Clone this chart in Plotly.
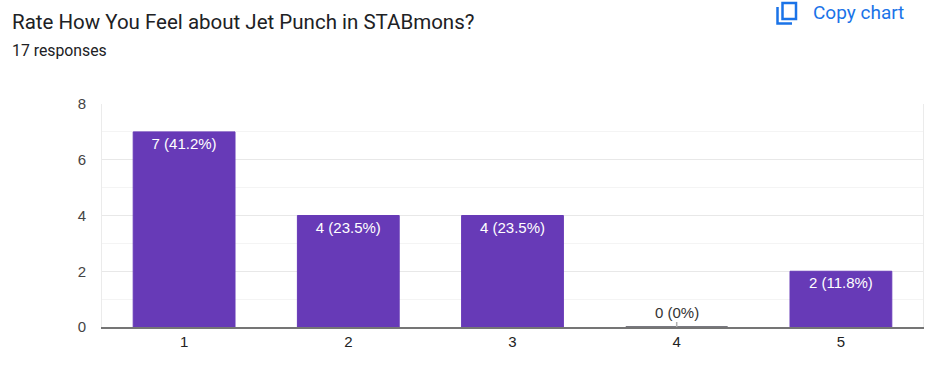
import plotly.graph_objects as go

categories = ["1", "2", "3", "4", "5"]
counts = [7, 4, 4, 0, 2]
total_responses = 17
y_ticks = [0, 2, 4, 6, 8]

W, H = 931, 365
L, R, T, B = 102, 8, 104, 38
PW, PH = W - L - R, H - T - B

def px(x):
    return (x - L) / PW

def py(y):
    return (H - B - y) / PH

labels = [f"{c} ({round(c / total_responses * 100, 1):g}%)" if c else "" for c in counts]

fig = go.Figure()
fig.add_bar(
    x=categories, y=counts, text=labels, textposition="inside", insidetextanchor="end",
    textangle=0,
    textfont=dict(color="white", size=15, family="Liberation Sans, Arial"),
    marker=dict(color="#673ab7", line=dict(color=["#673ab7", "#673ab7", "#673ab7", "#4a4a55", "#673ab7"], width=1)),
    width=0.62, cliponaxis=False, hoverinfo="skip",
)

for i, (c, n) in enumerate(zip(categories, counts)):
    if n == 0:
        fig.add_annotation(x=i, y=0, text=f"{n} (0%)", showarrow=True, arrowhead=0,
                           arrowcolor="#b0b0b0", arrowwidth=1.5, ax=0, ay=-15,
                           font=dict(size=15, color="#333", family="Liberation Sans, Arial"))

fig.add_annotation(x=px(10), y=py(22), xref="paper", yref="paper", xanchor="left", yanchor="middle",
                   text="Rate How You Feel about Jet Punch in STABmons?", showarrow=False,
                   font=dict(family="Roboto", size=20.5, color="#202124"))
fig.add_annotation(x=px(10), y=py(51), xref="paper", yref="paper", xanchor="left", yanchor="middle",
                   text="17 responses", showarrow=False,
                   font=dict(family="Roboto", size=15.8, color="#202124"))
fig.add_annotation(x=px(811), y=py(13), xref="paper", yref="paper", xanchor="left", yanchor="middle",
                   text="Copy chart", showarrow=False,
                   font=dict(family="Roboto", size=19, color="#1a73e8"))

blue = "#1a73e8"
fig.add_shape(type="rect", xref="paper", yref="paper", x0=px(782.5), x1=px(796), y0=py(3), y1=py(19),
              line=dict(color=blue, width=2.5), fillcolor="rgba(0,0,0,0)")
fig.add_shape(type="path", xref="paper", yref="paper",
              path=f"M {px(777.5)},{py(7)} L {px(777.5)},{py(23.5)} L {px(792)},{py(23.5)}",
              line=dict(color=blue, width=2.5))

fig.update_layout(
    width=W, height=H, margin=dict(l=L, r=R, t=T, b=B),
    paper_bgcolor="white", plot_bgcolor="white", showlegend=False,
    xaxis=dict(type="category", showgrid=False, showline=True, linecolor="#757575", linewidth=2,
               tickfont=dict(size=15, color="#222", family="Liberation Sans, Arial"), ticks="",
               fixedrange=True),
    yaxis=dict(range=[0, 8], tickvals=y_ticks, showgrid=True, gridcolor="#e8e8e8", gridwidth=1,
               minor=dict(dtick=1, showgrid=True, gridcolor="#f4f4f4"),
               zeroline=False, showline=True, linecolor="#ebebeb", mirror=True,
               tickfont=dict(size=15, color="#444", family="Liberation Sans, Arial"),
               ticklabelstandoff=12, fixedrange=True),
)
fig.write_html("out.html", config={"displayModeBar": False},
               post_script="document.body.style.margin='0';document.body.style.overflow='hidden';")
